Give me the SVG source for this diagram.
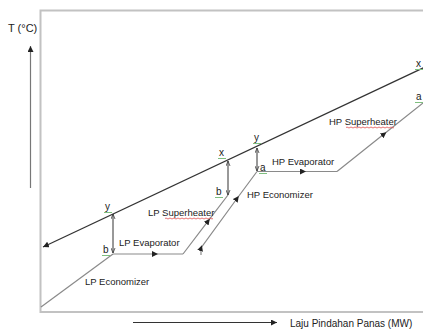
<svg xmlns="http://www.w3.org/2000/svg" width="423" height="331" viewBox="0 0 423 331">
<defs>
<marker id="tri" viewBox="0 0 10 10" refX="5" refY="5" markerWidth="6" markerHeight="6" markerUnits="userSpaceOnUse" orient="auto"><path d="M0,0 L10,5 L0,10 z" fill="#222"/></marker>
<marker id="head" viewBox="0 0 10 10" refX="10" refY="5" markerWidth="6" markerHeight="6" markerUnits="userSpaceOnUse" orient="auto-start-reverse"><path d="M0,0 L10,5 L0,10 z" fill="#222"/></marker>
<marker id="small" viewBox="0 0 10 10" refX="10" refY="5" markerWidth="5" markerHeight="5" markerUnits="userSpaceOnUse" orient="auto-start-reverse"><path d="M0,1 L10,5 L0,9" fill="none" stroke="#333" stroke-width="1.5"/></marker>
</defs>
<style>
text{font-family:"Liberation Sans",Arial,sans-serif;fill:#222;}
.lbl{font-size:9.5px;}
.pt{font-size:10px;}
.gas{stroke:#333;stroke-width:1.2;fill:none;}
.water{stroke:#8a8a8a;stroke-width:1.2;fill:none;}
.pinch{stroke:#333;stroke-width:1;fill:none;marker-start:url(#small);marker-end:url(#small);}
.green{stroke:#7fbf7f;stroke-width:1;}
.red{stroke:#e05050;stroke-width:0.8;fill:none;}
</style>
<rect x="40.5" y="10.5" width="400" height="301.5" fill="#fff" stroke="#c2c2c2" stroke-width="2"/>
<g id="axes">
<line x1="30.5" y1="188" x2="30.5" y2="46" stroke="#777" stroke-width="1.2" marker-end="url(#head)"/>
<text x="8" y="32" style="font-size:11px">T (°C)</text>
<line x1="133" y1="322.5" x2="277" y2="322.5" stroke="#333" stroke-width="1.2" marker-end="url(#head)"/>
<text x="290" y="327" style="font-size:10px">Laju Pindahan Panas (MW)</text>
</g>
<g id="connectors">
<path class="gas" d="M430,64.7 L43,247" marker-end="url(#head)"/>
<path class="water" d="M41,307 L113,254"/>
<path class="water" d="M113,254 L155,254 L183,254" marker-mid="url(#tri)"/>
<path class="water" d="M183,254 L208,221.2 L228,195" marker-mid="url(#tri)"/>
<path class="water" d="M201,255 L201,248 L237,198.5 L257,171.5" marker-mid="url(#tri)"/>
<path class="water" d="M257,171.5 L303,171.5 L337,171.5" marker-mid="url(#tri)"/>
<path class="water" d="M337,171.5 L384,134 L430,97.4" marker-mid="url(#tri)"/>
<line class="pinch" x1="113" y1="214" x2="113" y2="253"/>
<line class="pinch" x1="228" y1="161" x2="228" y2="195"/>
<line class="pinch" x1="257" y1="148" x2="257" y2="171"/>
</g>
<g id="lp-economizer"><text x="85" y="285" class="lbl">LP Economizer</text></g>
<g id="lp-evaporator"><text x="119" y="246" class="lbl">LP Evaporator</text></g>
<g id="lp-superheater"><text x="148" y="216" class="lbl">LP Superheater</text>
<path class="red" d="M165,218.5 q1,-1 2,0 t2,0 t2,0 t2,0 t2,0 t2,0 t2,0 t2,0 t2,0 t2,0 t2,0 t2,0 t2,0 t2,0 t2,0 t2,0 t2,0 t2,0 t2,0 t2,0 t2,0 t2,0 t2,0 t2,0"/></g>
<g id="hp-economizer"><text x="247" y="198" class="lbl">HP Economizer</text></g>
<g id="hp-evaporator"><text x="272" y="165" class="lbl">HP Evaporator</text></g>
<g id="hp-superheater"><text x="329" y="125" class="lbl">HP Superheater</text>
<path class="red" d="M346,127.5 q1,-1 2,0 t2,0 t2,0 t2,0 t2,0 t2,0 t2,0 t2,0 t2,0 t2,0 t2,0 t2,0 t2,0 t2,0 t2,0 t2,0 t2,0 t2,0 t2,0 t2,0 t2,0 t2,0 t2,0 t2,0"/></g>
<g id="points">
<text x="105" y="210" class="pt">y</text><line class="green" x1="104" y1="212.5" x2="112" y2="212.5"/>
<text x="103" y="253" class="pt">b</text><line class="green" x1="102" y1="255.5" x2="110" y2="255.5"/>
<text x="219" y="156" class="pt">x</text><line class="green" x1="218" y1="158.5" x2="226" y2="158.5"/>
<text x="216" y="195" class="pt">b</text><line class="green" x1="215" y1="197.5" x2="223" y2="197.5"/>
<text x="254" y="141" class="pt">y</text><line class="green" x1="253" y1="143.5" x2="261" y2="143.5"/>
<text x="260" y="171" class="pt">a</text><line class="green" x1="259" y1="173.5" x2="267" y2="173.5"/>
<text x="416" y="67" class="pt">x</text><line class="green" x1="415" y1="69.5" x2="423" y2="69.5"/>
<text x="416" y="100" class="pt">a</text><line class="green" x1="415" y1="102.5" x2="423" y2="102.5"/>
</g>
</svg>
